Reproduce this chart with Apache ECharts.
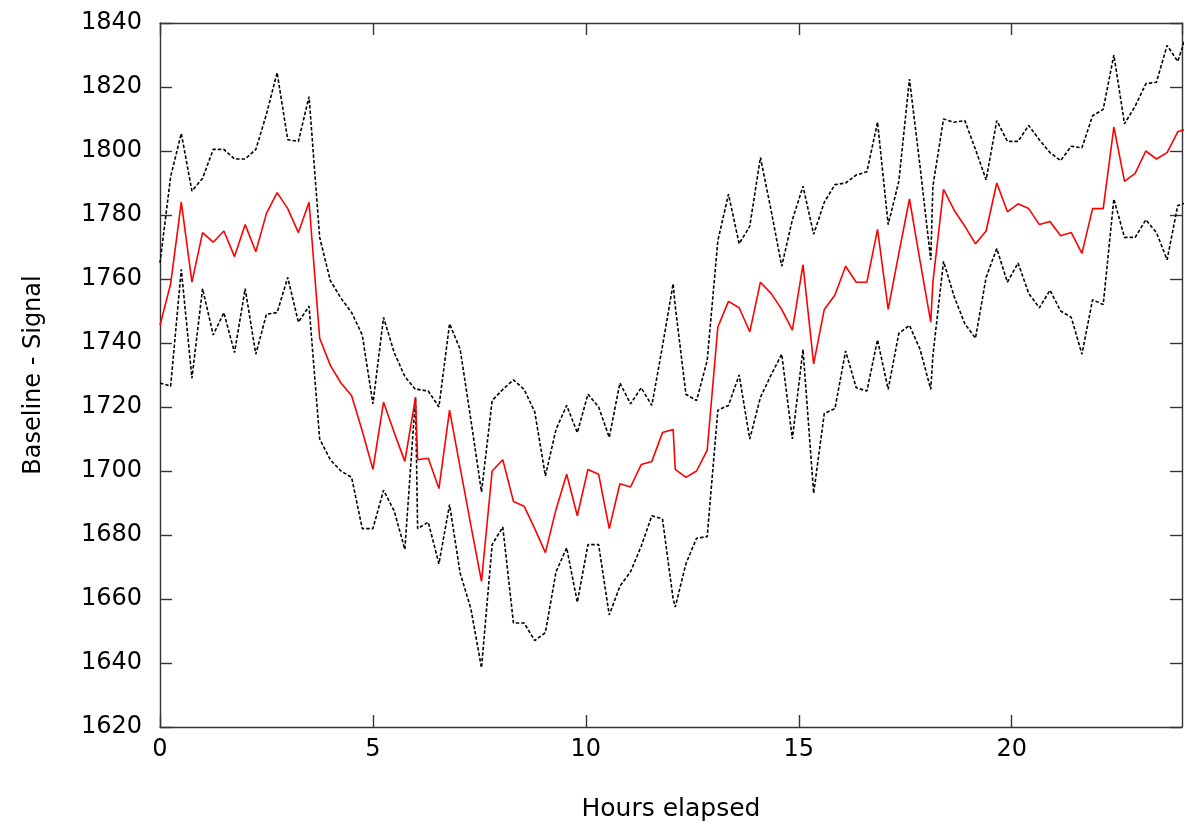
<!DOCTYPE html>
<html>
<head>
<meta charset="utf-8">
<script src="https://cdn.jsdelivr.net/npm/echarts@6/dist/echarts.min.js"></script>
<style>
  html, body { margin: 0; padding: 0; background: #ffffff; }
  #chart { width: 1187px; height: 830px; }
</style>
</head>
<body>
<div id="chart"></div>
<script>
// Sample times (hours elapsed); four 6-hour blocks of quarter-hour samples
const hours = [
  0, 0.25, 0.5, 0.75, 1, 1.25, 1.5, 1.75, 2, 2.25, 2.5, 2.75, 3, 3.25, 3.5, 3.75, 4, 4.25, 4.5, 4.75, 5, 5.25, 5.5, 5.75, 6,
  6.05, 6.3, 6.55, 6.8, 7.05, 7.3, 7.55, 7.8, 8.05, 8.3, 8.55, 8.8, 9.05, 9.3, 9.55, 9.8, 10.05, 10.3, 10.55, 10.8, 11.05, 11.3, 11.55, 11.8, 12.05,
  12.1, 12.35, 12.6, 12.85, 13.1, 13.35, 13.6, 13.85, 14.1, 14.35, 14.6, 14.85, 15.1, 15.35, 15.6, 15.85, 16.1, 16.35, 16.6, 16.85, 17.1, 17.35, 17.6, 17.85, 18.1,
  18.15, 18.4, 18.65, 18.9, 19.15, 19.4, 19.65, 19.9, 20.15, 20.4, 20.65, 20.9, 21.15, 21.4, 21.65, 21.9, 22.15, 22.4, 22.65, 22.9, 23.15, 23.4, 23.65, 23.9, 24.15
];

// Mean baseline-minus-signal
const meanSignal = [
  1745.5, 1758.5, 1784, 1759, 1774.5, 1771.5, 1775, 1767, 1777, 1768.5, 1780.5, 1787, 1782, 1774.5, 1784, 1741.5, 1733, 1727.5, 1723.5, 1712.5, 1700.5, 1721.5, 1712, 1703, 1723,
  1703.5, 1704, 1694.5, 1719, 1701, 1683, 1665.5, 1700, 1703.5, 1690.5, 1689, 1682, 1674.5, 1688, 1699, 1686, 1700.5, 1699, 1682, 1696, 1695, 1702, 1703, 1712, 1713,
  1700.5, 1698, 1700, 1706.5, 1745, 1753, 1751, 1743.5, 1759, 1755.5, 1750.5, 1744, 1764.5, 1733.5, 1750.5, 1755, 1764, 1759, 1759, 1775.5, 1750.5, 1768, 1785, 1765.5, 1746.5,
  1759, 1788, 1781.5, 1776.5, 1771, 1775, 1790, 1781, 1783.5, 1782, 1777, 1778, 1773.5, 1774.5, 1768, 1782, 1782, 1807.5, 1790.5, 1793, 1800, 1797.5, 1799.5, 1806, 1807
];

// Upper band
const upperSignal = [
  1765, 1792, 1805.5, 1787.5, 1791.5, 1800.5, 1800.5, 1797.5, 1797.5, 1800.5, 1811.5, 1824.5, 1803.5, 1803, 1817, 1773, 1759.5, 1754, 1749.5, 1742.5, 1721, 1748, 1737, 1729.5, 1725.5,
  1725.5, 1725, 1720, 1746, 1738, 1716, 1693.5, 1722, 1725.5, 1728.5, 1725.5, 1718.5, 1698.5, 1713, 1720.5, 1712, 1724, 1720, 1710.5, 1727.5, 1721, 1726, 1720.5, 1739, 1758.5,
  1751.5, 1724, 1722, 1734.5, 1772, 1786.5, 1771, 1776.5, 1798, 1781.5, 1764, 1778.5, 1789, 1774, 1784, 1789.5, 1790, 1792.5, 1793.5, 1809, 1777, 1790.5, 1822.5, 1795, 1766,
  1789, 1810, 1809, 1809.5, 1800.5, 1791, 1809.5, 1803, 1803, 1808, 1803.5, 1799.5, 1797, 1801.5, 1801, 1811, 1813, 1830, 1808.5, 1814, 1821, 1821.5, 1833, 1828, 1838
];

// Lower band
const lowerSignal = [
  1727.5, 1726.5, 1763, 1729, 1757, 1742.5, 1749.5, 1737, 1757, 1736.5, 1749, 1749.5, 1760.5, 1746.5, 1751.5, 1710, 1703.5, 1700, 1698, 1682, 1682, 1694, 1687.5, 1675.5, 1723,
  1682, 1684, 1671, 1689.5, 1668, 1657, 1638.5, 1677, 1682.5, 1652.5, 1652.5, 1647, 1649.5, 1668.5, 1676, 1659, 1677, 1677, 1655, 1664, 1668.5, 1676.5, 1686, 1685, 1660,
  1657.5, 1671, 1679, 1679.5, 1719, 1720.5, 1730, 1710, 1723, 1730, 1736.5, 1710, 1738, 1693, 1718, 1719.5, 1737.5, 1726, 1725, 1741, 1725.5, 1743, 1745.5, 1738, 1725.5,
  1736, 1765.5, 1754.5, 1746, 1741.5, 1760.5, 1769.5, 1759, 1765, 1755.5, 1751, 1756.5, 1750, 1748, 1736.5, 1753.5, 1752, 1785, 1773, 1773, 1778.5, 1774.5, 1766, 1783, 1784
];

const xRange = [0, 24];
const xStep = 5;
const yRange = [1620, 1840];
const yStep = 20;

const FONT = 'DejaVu Sans';
const FONT_SIZE = 24;
const pairs = vals => hours.map((h, i) => [h, vals[i]]);

const chart = echarts.init(document.getElementById('chart'), null, { renderer: 'canvas' });

// Border lines stay on their own side of the plot box (no snapping to zero)
const axisLine = { show: true, onZero: false, lineStyle: { color: '#353535', width: 1.4 } };
const tickIn = { show: true, inside: true, length: 12, lineStyle: { color: '#353535', width: 1.4 } };
const plain = v => String(v);

chart.setOption({
  animation: false,
  backgroundColor: '#ffffff',
  grid: { left: 160, right: 5, top: 23, bottom: 103, containLabel: false },
  xAxis: [
    {
      type: 'value', position: 'bottom', min: xRange[0], max: xRange[1], interval: xStep,
      axisLine: axisLine, axisTick: tickIn, splitLine: { show: false },
      axisLabel: { show: true, margin: 11, color: '#000', fontFamily: FONT, fontSize: FONT_SIZE, showMaxLabel: false, formatter: plain },
      name: 'Hours elapsed', nameLocation: 'middle', nameGap: 70,
      nameTextStyle: { color: '#000', fontFamily: FONT, fontSize: 25 }
    },
    {
      type: 'value', position: 'top', min: xRange[0], max: xRange[1], interval: xStep,
      axisLine: axisLine, axisTick: tickIn, splitLine: { show: false },
      axisLabel: { show: false }
    }
  ],
  yAxis: [
    {
      type: 'value', position: 'left', min: yRange[0], max: yRange[1], interval: yStep,
      axisLine: axisLine, axisTick: tickIn, splitLine: { show: false },
      axisLabel: { show: true, margin: 18, color: '#000', fontFamily: FONT, fontSize: FONT_SIZE, formatter: plain },
      name: 'Baseline - Signal', nameLocation: 'middle', nameGap: 114, nameRotate: 90,
      nameTextStyle: { color: '#000', fontFamily: FONT, fontSize: FONT_SIZE }
    },
    {
      type: 'value', position: 'right', min: yRange[0], max: yRange[1], interval: yStep,
      axisLine: axisLine, axisTick: tickIn, splitLine: { show: false },
      axisLabel: { show: false }
    }
  ],
  series: [
    {
      name: 'upper', type: 'line', xAxisIndex: 0, yAxisIndex: 0, data: pairs(upperSignal),
      showSymbol: false, symbol: 'none', clip: true,
      lineStyle: { color: '#000000', width: 1.6, type: [3.5, 2] }
    },
    {
      name: 'lower', type: 'line', xAxisIndex: 0, yAxisIndex: 0, data: pairs(lowerSignal),
      showSymbol: false, symbol: 'none', clip: true,
      lineStyle: { color: '#000000', width: 1.6, type: [3.5, 2] }
    },
    {
      name: 'mean', type: 'line', xAxisIndex: 0, yAxisIndex: 0, data: pairs(meanSignal),
      showSymbol: false, symbol: 'none', clip: true, z: 3,
      lineStyle: { color: '#ff0000', width: 1.6 }
    }
  ]
});
</script>
</body>
</html>
